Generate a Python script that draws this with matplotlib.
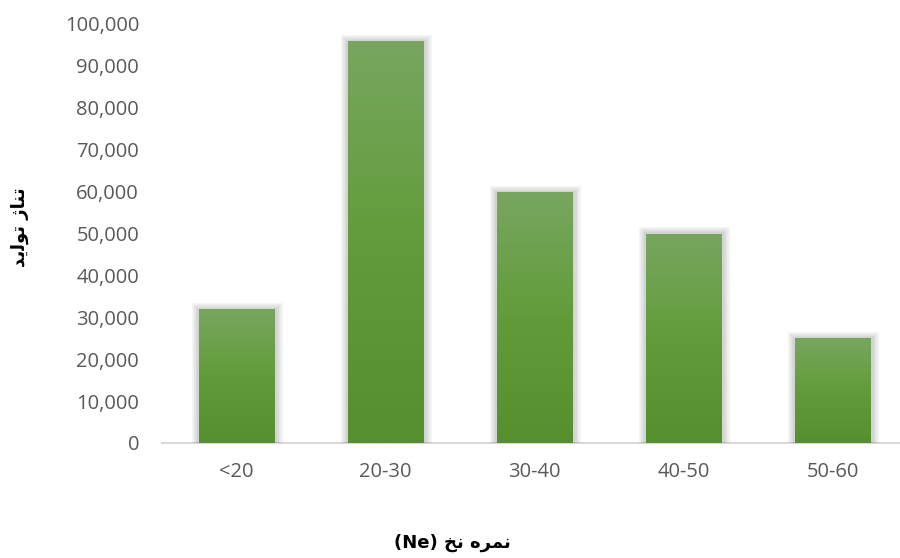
import matplotlib
matplotlib.use("Agg")
import matplotlib.pyplot as plt
import matplotlib.patheffects as pe
import numpy as np
from matplotlib.colors import LinearSegmentedColormap
from matplotlib.ticker import FuncFormatter, MultipleLocator

# Production tonnage by yarn count range
categories = ["<20", "20-30", "30-40", "40-50", "50-60"]
values = [32000, 96000, 60000, 50000, 25000]

# Axis labels (Persian, written in presentation forms, visual order)
ylabel_text = "\uFEAA\uFBFE\uFEDF\uFEEE\uFE97 \uFB8A\uFE8E\uFEE8\uFE97"
xlabel_text = "(Ne) \uFEA6\uFEE7 \uFEE9\uFEAE\uFEE4\uFEE7"

fig = plt.figure(figsize=(9, 5.58), dpi=100)
ax = fig.add_axes([162 / 900, 1 - 443 / 558, 745 / 900, (443 - 24) / 558])

x = np.arange(len(categories))

# soft outer shadow built from stacked translucent strokes
shadow = []
for lw in [11, 9, 7, 5, 3]:
    shadow.append(pe.SimpleLineShadow(offset=(0.7, -0.7), shadow_color="black",
                                      alpha=0.035, linewidth=lw))
shadow.append(pe.Normal())
bars = ax.bar(x, values, width=0.51, color="#639C3C", zorder=2, path_effects=shadow)

cmap = LinearSegmentedColormap.from_list("grn", ["#568F2D", "#629C3A", "#78A660"])
grad = np.linspace(0, 1, 256).reshape(-1, 1)
for b in bars:
    x0, y0 = b.get_x(), b.get_y()
    w, h = b.get_width(), b.get_height()
    im = ax.imshow(grad, cmap=cmap, aspect="auto", origin="lower",
                   extent=[x0, x0 + w, y0, y0 + h], zorder=3, interpolation="bilinear")
    im.set_clip_path(b)

ax.set_xlim(-0.5, len(categories) - 0.5)
ax.set_ylim(0, 100000)
ax.yaxis.set_major_locator(MultipleLocator(10000))
ax.yaxis.set_major_formatter(FuncFormatter(lambda v, p: f"{int(v):,}"))
ax.set_xticks(x)
ax.set_xticklabels(categories)

for lab in ax.get_yticklabels() + ax.get_xticklabels():
    lab.set_fontfamily(["Open Sans", "DejaVu Sans"])
    lab.set_fontsize(14.5)
    lab.set_color("#595959")

ax.tick_params(axis="both", length=0)
ax.tick_params(axis="y", pad=16.5)
ax.tick_params(axis="x", pad=14)
for s in ["top", "right", "left"]:
    ax.spines[s].set_visible(False)
ax.spines["bottom"].set_color("#D9D9D9")
ax.spines["bottom"].set_linewidth(1.5)
ax.spines["bottom"].set_zorder(1)
ax.set_facecolor("white")

fig.text(20 / 900, 1 - 227 / 558, ylabel_text, rotation=90, ha="center", va="center",
         fontsize=13, fontweight="bold", family=["DejaVu Sans"], color="black")
fig.text(452 / 900, 1 - 543 / 558, xlabel_text, ha="center", va="center",
         fontsize=13, fontweight="bold", family=["DejaVu Sans"], color="black")

fig.savefig("out.png", dpi=100, facecolor="white")
